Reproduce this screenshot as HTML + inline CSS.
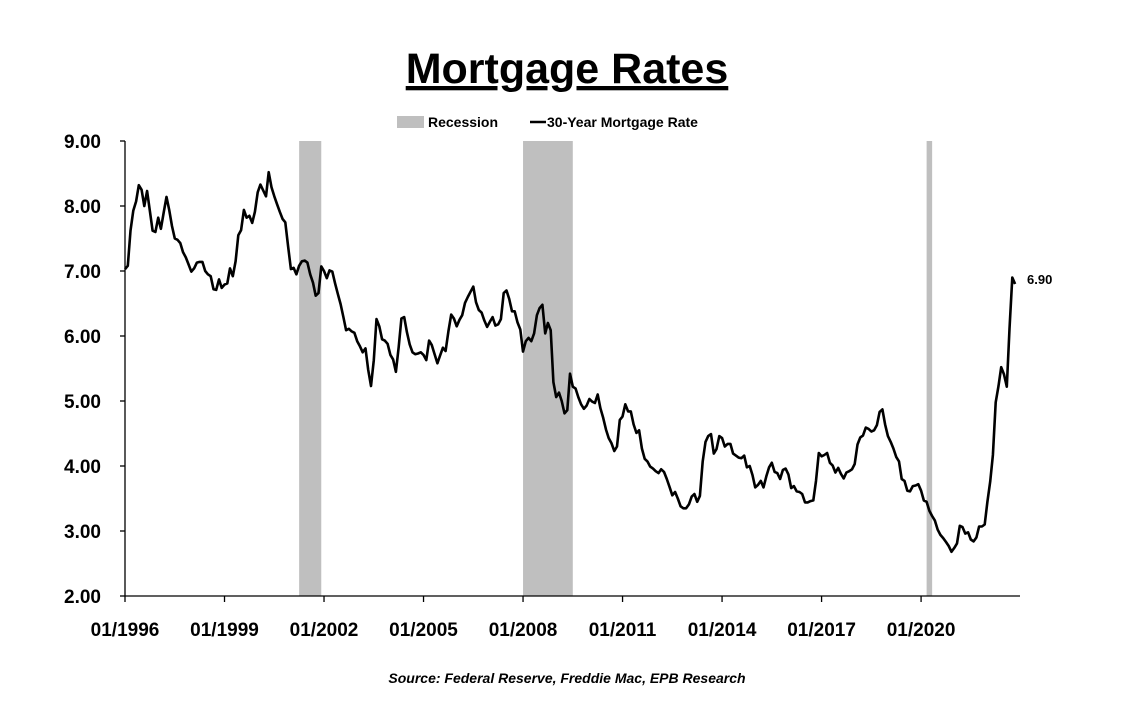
<!DOCTYPE html>
<html><head><meta charset="utf-8">
<style>
body{margin:0;background:#fff;}
svg text{font-family:"Liberation Sans",sans-serif;fill:#000;}
</style></head>
<body>
<svg width="1121" height="706" viewBox="0 0 1121 706" xmlns="http://www.w3.org/2000/svg">
<text x="567" y="83" text-anchor="middle" font-size="43" font-weight="bold" text-decoration="underline">Mortgage Rates</text>
<g>
<rect x="397" y="116" width="27" height="12" fill="#bfbfbf"/>
<text x="428" y="127" font-size="14" font-weight="bold">Recession</text>
<line x1="530" y1="122" x2="546" y2="122" stroke="#000" stroke-width="2.5"/>
<text x="547" y="127" font-size="14" font-weight="bold">30-Year Mortgage Rate</text>
</g>
<g id="rec"></g>
<g id="axes"></g>
<path id="line" fill="none" stroke="#000" stroke-width="2.6" stroke-linejoin="round"/>
<text x="1027" y="284" font-size="13" font-weight="bold">6.90</text>
<text x="567" y="683" text-anchor="middle" font-size="14" font-weight="bold" font-style="italic">Source: Federal Reserve, Freddie Mac, EPB Research</text>
</svg>
<script>
const startYear = 1996;
const rates = [
7.03,7.08,7.62,7.93,8.07,8.32,8.25,8.00,8.23,7.92,7.62,7.60,
7.82,7.65,7.90,8.14,7.94,7.69,7.50,7.48,7.43,7.29,7.21,7.10,
6.99,7.04,7.13,7.14,7.14,7.00,6.95,6.92,6.72,6.71,6.87,6.74,
6.79,6.81,7.04,6.92,7.15,7.55,7.63,7.94,7.82,7.85,7.74,7.91,
8.21,8.33,8.24,8.15,8.52,8.29,8.15,8.03,7.91,7.80,7.75,7.38,
7.03,7.05,6.95,7.08,7.15,7.16,7.13,6.95,6.82,6.62,6.66,7.07,
7.00,6.89,7.01,6.99,6.81,6.65,6.49,6.29,6.09,6.11,6.07,6.05,
5.92,5.84,5.75,5.81,5.48,5.23,5.63,6.26,6.15,5.95,5.93,5.88,
5.71,5.64,5.45,5.83,6.27,6.29,6.06,5.87,5.75,5.72,5.73,5.75,
5.71,5.63,5.93,5.86,5.72,5.58,5.70,5.82,5.77,6.07,6.33,6.27,
6.15,6.25,6.32,6.51,6.60,6.68,6.76,6.52,6.40,6.36,6.24,6.14,
6.22,6.29,6.16,6.18,6.26,6.66,6.70,6.57,6.38,6.38,6.21,6.10,
5.76,5.92,5.97,5.92,6.04,6.32,6.43,6.48,6.04,6.20,6.09,5.29,
5.06,5.13,5.00,4.81,4.86,5.42,5.22,5.19,5.06,4.95,4.88,4.93,
5.03,4.99,4.97,5.10,4.89,4.74,4.56,4.43,4.35,4.23,4.30,4.71,
4.76,4.95,4.84,4.84,4.64,4.51,4.55,4.27,4.11,4.07,3.99,3.96,
3.92,3.89,3.95,3.91,3.80,3.68,3.55,3.60,3.50,3.38,3.35,3.35,
3.41,3.53,3.57,3.45,3.54,4.07,4.37,4.46,4.49,4.19,4.26,4.46,
4.43,4.30,4.34,4.34,4.19,4.16,4.13,4.12,4.16,3.98,4.00,3.86,
3.67,3.71,3.77,3.67,3.84,3.98,4.05,3.91,3.89,3.80,3.94,3.96,
3.87,3.66,3.69,3.61,3.60,3.57,3.44,3.44,3.46,3.47,3.77,4.20,
4.15,4.17,4.20,4.05,4.01,3.90,3.97,3.88,3.81,3.90,3.92,3.95,
4.03,4.33,4.44,4.47,4.59,4.57,4.53,4.55,4.63,4.83,4.87,4.64,
4.46,4.37,4.27,4.14,4.07,3.80,3.77,3.62,3.61,3.69,3.70,3.72,
3.62,3.47,3.45,3.31,3.23,3.16,3.02,2.94,2.89,2.83,2.77,2.68,
2.74,2.81,3.08,3.06,2.96,2.98,2.87,2.84,2.90,3.07,3.07,3.10,
3.45,3.76,4.17,4.98,5.23,5.52,5.41,5.22,6.11,6.90,6.80];
const recStart = [2001+3/12, 2008+0/12, 2020+2/12];
const recEnd = [2001+11/12, 2009+6/12, 2020+4/12];
const yTicks = [2,3,4,5,6,7,8,9];
const xTickYears = [1996,1999,2002,2005,2008,2011,2014,2017,2020];

const X0=125, PXY=33.17, Y0=596, PXU=65;
const xs = t => X0 + (t - startYear)*PXY;
const ys = v => Y0 - (v - 2)*PXU;
const NS="http://www.w3.org/2000/svg";
function mk(tag, attrs, parent){const e=document.createElementNS(NS,tag);for(const k in attrs)e.setAttribute(k,attrs[k]);parent.appendChild(e);return e;}

const rec=document.getElementById('rec');
recStart.forEach((s,i)=>{
  const r=mk('rect',{x:xs(s),y:ys(9),width:xs(recEnd[i])-xs(s),height:ys(2)-ys(9),fill:'#bfbfbf'},rec);
  
  
});

const ax=document.getElementById('axes');
const yl=mk('line',{x1:X0,y1:ys(9),x2:X0,y2:Y0,stroke:'#000','stroke-width':1.3},ax);


const xl=mk('line',{x1:X0,y1:Y0,x2:1020,y2:Y0,stroke:'#000','stroke-width':1.3},ax);


yTicks.forEach(v=>{
  const tk=mk('line',{x1:X0-5,y1:ys(v),x2:X0,y2:ys(v),stroke:'#000','stroke-width':1.3},ax);
  
  
  const t=mk('text',{x:101,y:ys(v)+7,'text-anchor':'end','font-size':19,'font-weight':'bold'},ax);
  t.textContent=v.toFixed(2);
  
  
});
xTickYears.forEach(y=>{
  const tk=mk('line',{x1:xs(y),y1:Y0,x2:xs(y),y2:Y0+6,stroke:'#000','stroke-width':1.3},ax);
  
  
  const t=mk('text',{x:xs(y),y:636,'text-anchor':'middle','font-size':19,'font-weight':'bold'},ax);
  t.textContent='01/'+y;
  
  
});

let d='';
rates.forEach((v,i)=>{d+=(i?'L':'M')+xs(startYear+i/12).toFixed(1)+','+ys(v).toFixed(1);});
document.getElementById('line').setAttribute('d',d);
</script>
</body></html>
